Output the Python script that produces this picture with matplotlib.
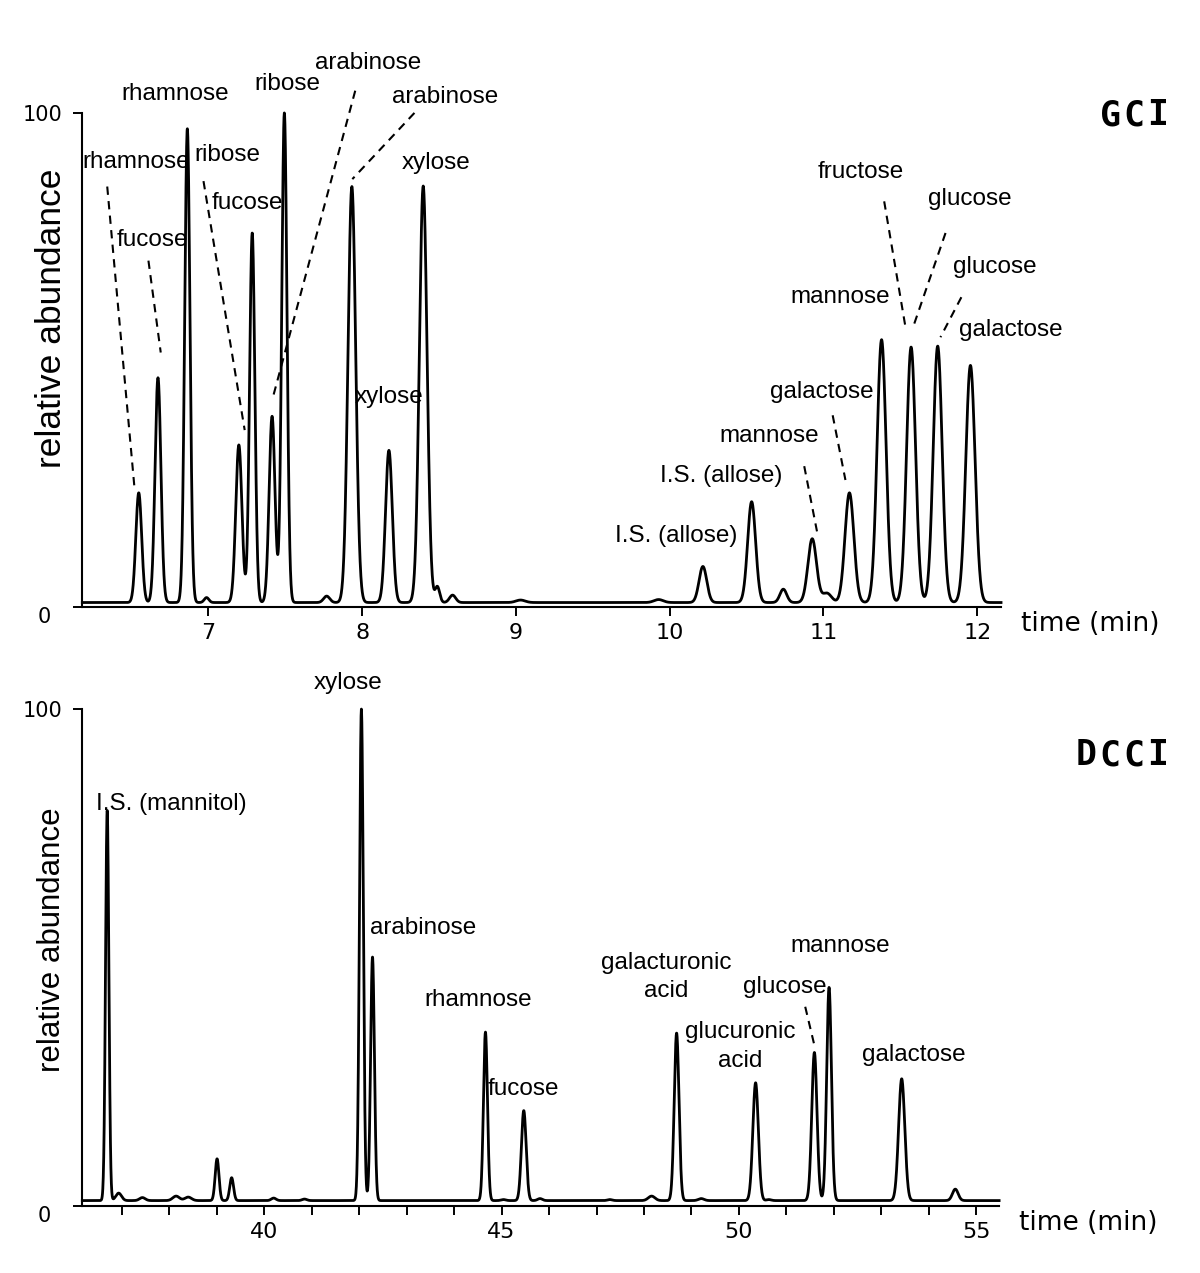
import numpy as np
import matplotlib
matplotlib.use("Agg")
import matplotlib.pyplot as plt
from matplotlib.transforms import ScaledTranslation

plt.rcParams['font.family'] = ['DejaVu Sans']
plt.rcParams['xtick.labelsize'] = 16
plt.rcParams['ytick.labelsize'] = 15

# ---- GC (top) peaks: retention time (min), apex height (%), peak sigma (min)
gc_time = [6.547, 6.672, 6.863, 6.988, 7.198, 7.285, 7.414, 7.494, 7.769, 7.933,
           8.174, 8.397, 8.489, 8.588, 9.03, 9.928, 10.216, 10.533, 10.739, 10.927,
           11.022, 11.169, 11.378, 11.570, 11.743, 11.956]
gc_height = [23.1, 46.4, 96.8, 1.9, 32.8, 75.7, 38.6, 100.0, 2.2, 85.1,
             31.7, 85.2, 4.1, 2.4, 1.4, 1.5, 8.2, 21.3, 3.6, 13.8,
             2.8, 23.1, 54.1, 52.6, 52.8, 48.9]
gc_sigma = [0.019, 0.019, 0.017, 0.015, 0.020, 0.017, 0.019, 0.017, 0.020, 0.025,
            0.022, 0.025, 0.015, 0.020, 0.030, 0.030, 0.025, 0.026, 0.022, 0.028,
            0.030, 0.029, 0.029, 0.029, 0.029, 0.030]
gc_baseline = 0.9

# ---- DCCI (bottom) peaks
dc_time = [36.694, 36.935, 37.435, 38.145, 38.40, 39.008, 39.315, 40.20, 40.85, 42.048,
           42.282, 44.661, 45.04, 45.468, 45.81, 47.28, 48.16, 48.687, 49.206, 50.351,
           50.63, 51.589, 51.898, 53.428, 54.557]
dc_height = [79.6, 2.6, 1.7, 2.0, 1.8, 9.5, 5.7, 1.6, 1.4, 100.0,
             50.1, 35.0, 1.3, 19.2, 1.5, 1.3, 2.0, 34.8, 1.5, 24.8,
             1.3, 30.9, 44.0, 25.6, 3.4]
dc_sigma = [0.035, 0.06, 0.06, 0.07, 0.07, 0.04, 0.04, 0.05, 0.05, 0.04,
            0.04, 0.042, 0.05, 0.05, 0.05, 0.05, 0.07, 0.05, 0.06, 0.058,
            0.05, 0.055, 0.05, 0.065, 0.06]
dc_baseline = 1.1

# ---- peak labels (text, label position) and dashed leaders
gc_labels = [
    ("rhamnose", 6.784, 103.9), ("ribose", 7.514, 105.8), ("arabinose", 8.040, 110.2),
    ("arabinose", 8.539, 103.2), ("rhamnose", 6.528, 90.1), ("ribose", 7.124, 91.4),
    ("fucose", 7.256, 81.7), ("fucose", 6.635, 74.3), ("xylose", 8.482, 89.9),
    ("xylose", 8.174, 42.5), ("fructose", 11.241, 88.1), ("glucose", 11.949, 82.5),
    ("glucose", 12.116, 68.9), ("mannose", 11.112, 62.7), ("galactose", 12.219, 56.0),
    ("galactose", 10.988, 43.5), ("mannose", 10.649, 34.7), ("I.S. (allose)", 10.335, 26.5),
    ("I.S. (allose)", 10.044, 14.4),
]
gc_leaders = [
    ((6.342, 85.1), (6.521, 23.5)), ((6.610, 70.1), (6.690, 51.5)),
    ((6.968, 86.2), (7.236, 35.8)), ((7.955, 104.5), (7.414, 41.8)),
    ((8.340, 100.0), (7.936, 86.6)), ((11.395, 82.1), (11.537, 56.0)),
    ((11.794, 75.7), (11.588, 57.1)), ((11.897, 62.7), (11.761, 54.6)),
    ((11.060, 38.8), (11.143, 25.7)), ((10.875, 28.5), (10.958, 15.3)),
]
dc_labels = [
    ("xylose", 41.758, 105.2), ("I.S. (mannitol)", 38.048, 80.9), ("arabinose", 43.347, 55.9),
    ("rhamnose", 44.516, 41.5), ("fucose", 45.468, 23.6), ("galacturonic\nacid", 48.470, 46.1),
    ("glucuronic\nacid", 50.025, 32.1), ("glucose", 50.962, 44.0), ("mannose", 52.132, 52.4),
    ("galactose", 53.679, 30.3),
]
dc_leaders = [((51.396, 40.1), (51.605, 31.7))]


def trace(t, times, heights, sigmas, base):
    y = np.full_like(t, base)
    for t0, h, s in zip(times, heights, sigmas):
        y += (h - base) * np.exp(-0.5 * ((t - t0) / s) ** 2)
    return y


def style_axes(ax, xlim, ylab_pos, ylab_size):
    ax.set_xlim(*xlim)
    ax.set_ylim(0, 100)
    for side in ("top", "right"):
        ax.spines[side].set_visible(False)
    for side in ("left", "bottom"):
        ax.spines[side].set_linewidth(1.5)
    ax.tick_params(direction="out", length=6.5, width=1.4)
    ax.tick_params(axis="x", pad=5)
    ax.tick_params(axis="y", pad=8)
    ax.set_yticks([0, 100], ["0", "100"])
    lbl0 = ax.get_yticklabels()[0]
    lbl0.set_transform(lbl0.get_transform() + ScaledTranslation(-11 / 100, -8 / 100, fig.dpi_scale_trans))
    ax.text(ylab_pos[0], ylab_pos[1], "relative abundance", transform=ax.transAxes, rotation=90,
            family="Liberation Sans", fontsize=ylab_size, ha="center", va="center")
    ax.text(1.022, -0.035, "time (min)", transform=ax.transAxes, fontsize=19,
            ha="left", va="center")


def draw_panel(ax, times, heights, sigmas, base, labels, leaders, xlim, ylab_pos, ylab_size):
    t = np.linspace(xlim[0], xlim[1], 6000)
    ax.plot(t, trace(t, times, heights, sigmas, base), color="black", lw=2.0, clip_on=False)
    for txt, x, y in labels:
        ax.text(x, y, txt, family="Liberation Sans", fontsize=17.5, ha="center",
                va="center", linespacing=1.4, clip_on=False)
    for (x0, y0), (x1, y1) in leaders:
        ax.plot([x0, x1], [y0, y1], color="black", lw=1.5, ls=(0, (4, 3)), clip_on=False)
    style_axes(ax, xlim, ylab_pos, ylab_size)


def spaced_title(x_centers_px, y_px, text):
    for xc, ch in zip(x_centers_px, text):
        fig.text(xc / 1200, 1 - y_px / 1273, ch, family="DejaVu Sans Mono",
                 fontweight="bold", fontsize=25, ha="center", va="center")


fig = plt.figure(figsize=(12, 12.73), dpi=100)
ax1 = fig.add_axes([0.0686, 0.5232, 0.7656, 0.3881])
ax2 = fig.add_axes([0.0686, 0.0526, 0.764, 0.3904])

draw_panel(ax1, gc_time, gc_height, gc_sigma, gc_baseline, gc_labels, gc_leaders,
           (6.18, 12.155), (-0.0333, 0.585), 25.5)
ax1.set_xticks(range(7, 13))

draw_panel(ax2, dc_time, dc_height, dc_sigma, dc_baseline, dc_labels, dc_leaders,
           (36.17, 55.48), (-0.0333, 0.535), 22.5)
ax2.set_xticks(range(37, 56))
ax2.set_xticklabels([str(v) if v % 5 == 0 else "" for v in range(37, 56)])

spaced_title([1110, 1134, 1158], 115, "GCI")
spaced_title([1086, 1110, 1134, 1158], 755, "DCCI")

fig.savefig("out.png", dpi=100)
